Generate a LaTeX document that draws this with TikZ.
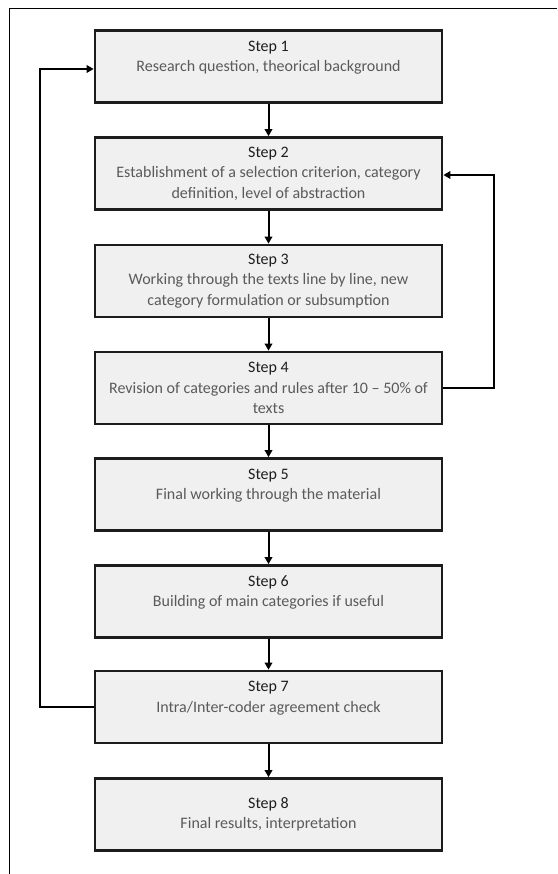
\documentclass[tikz,border=0pt]{standalone}
\usepackage{fontspec}
\setmainfont{Carlito}
\usetikzlibrary{arrows.meta}
\definecolor{boxfill}{HTML}{F0F0F0}
\definecolor{boxline}{HTML}{1C1C1C}
\definecolor{desc}{HTML}{5A5A5A}
\definecolor{stepcol}{HTML}{1E1E1E}
\newcommand{\stpname}[1]{{\color{stepcol}#1}}
\tikzset{
  stepbox/.style={draw=boxline, line width=2.7pt, fill=boxfill,
    minimum width=347pt, minimum height=72pt, inner sep=0pt,
    align=center, text=desc, font=\fontsize{16}{20.5}\selectfont},
  flow/.style={draw=black, line width=2pt, -{Triangle[length=7pt,width=7.5pt]}},
  frameline/.style={draw=black, line width=1.3pt}
}
\begin{document}
\begin{tikzpicture}[x=1pt,y=-1pt]
\useasboundingbox (0,0) rectangle (557,874);
\fill[white] (0,0) rectangle (557,874);
% outer frame (top and left edge only)
\coordinate (fa) at (557,8.5);
\coordinate (fb) at (9.5,8.5);
\coordinate (fc) at (9.5,874);
\draw[frameline] (fa) -- (fb) -- (fc);

\node[stepbox] (s1) at (268.5,66.5) {\stpname{Step 1}\\Research question, theorical background\\\mbox{}};
\node[stepbox] (s2) at (268.5,173.5) {\stpname{Step 2}\\Establishment of a selection criterion, category\\definition, level of abstraction};
\node[stepbox] (s3) at (268.5,281) {\stpname{Step 3}\\Working through the texts line by line, new\\category formulation or subsumption};
\node[stepbox] (s4) at (268.5,388) {\stpname{Step 4}\\Revision of categories and rules after 10 -- 50\% of\\texts};
\node[stepbox] (s5) at (268.5,494.5) {\stpname{Step 5}\\Final working through the material\\\mbox{}};
\node[stepbox] (s6) at (268.5,601.5) {\stpname{Step 6}\\Building of main categories if useful\\\mbox{}};
\node[stepbox] (s7) at (268.5,707) {\stpname{Step 7}\\Intra/Inter-coder agreement check\\\mbox{}};
\node[stepbox] (s8) at (268.5,814.5) {\stpname{Step 8}\\Final results, interpretation};

\draw[flow] (s1) -- (s2);
\draw[flow] (s2) -- (s3);
\draw[flow] (s3) -- (s4);
\draw[flow] (s4) -- (s5);
\draw[flow] (s5) -- (s6);
\draw[flow] (s6) -- (s7);
\draw[flow] (s7) -- (s8);

% feedback loops
\coordinate (l7) at (40,707);
\coordinate (l1) at (40,69);
\draw[flow] (s7.west) -- (l7) -- (l1) -- (s1.west |- l1);
\coordinate (r4) at (494,388);
\coordinate (r2) at (494,175);
\draw[flow] (s4.east) -- (r4) -- (r2) -- (s2.east |- r2);
\end{tikzpicture}
\end{document}
